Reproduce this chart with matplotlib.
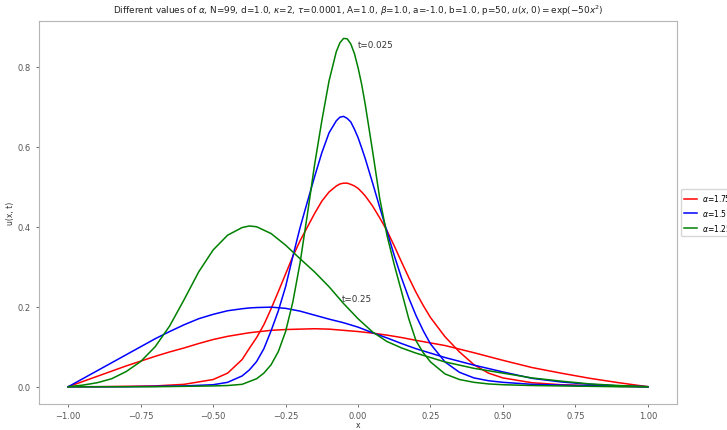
import numpy as np
import matplotlib
matplotlib.use('Agg')
import matplotlib.pyplot as plt

# solution profiles u(x, t) for three orders alpha, at t=0.025 and t=0.25
alphas = ['1.75', '1.5', '1.25']
colors = ['r', 'b', 'g']

x_early = [-1.0, -0.9, -0.8, -0.7, -0.6, -0.5, -0.45, -0.4,
           -0.375, -0.35, -0.325, -0.3, -0.275, -0.25, -0.225, -0.2,
           -0.175, -0.15, -0.125, -0.1, -0.075, -0.0625, -0.05, -0.0375, -0.025, -0.0125, 0.0, 0.0125,
           0.025, 0.05, 0.075, 0.1, 0.125, 0.15, 0.175, 0.2, 0.225, 0.25,
           0.3, 0.35, 0.4, 0.45, 0.5, 0.6, 0.7, 0.8, 0.9, 1.0]

u_early_175 = [0.0, 0.0, 0.001, 0.002, 0.006, 0.018, 0.034, 0.068,
               0.096, 0.123, 0.155, 0.195, 0.238, 0.282, 0.326, 0.365,
               0.399, 0.433, 0.464, 0.487, 0.502, 0.507, 0.509, 0.509, 0.506, 0.502, 0.496, 0.487,
               0.477, 0.452, 0.422, 0.39, 0.352, 0.312, 0.273, 0.236, 0.203, 0.173,
               0.125, 0.087, 0.055, 0.034, 0.022, 0.01, 0.005, 0.003, 0.001, 0.0]

u_early_15 = [0.0, 0.0, 0.0, 0.001, 0.002, 0.005, 0.011, 0.027,
              0.042, 0.063, 0.095, 0.14, 0.19, 0.25, 0.326, 0.398,
              0.462, 0.525, 0.585, 0.635, 0.665, 0.674, 0.676, 0.671, 0.662, 0.644, 0.623, 0.597,
              0.57, 0.51, 0.448, 0.388, 0.328, 0.272, 0.222, 0.178, 0.14, 0.107,
              0.062, 0.036, 0.022, 0.015, 0.011, 0.006, 0.004, 0.002, 0.001, 0.0]

u_early_125 = [0.0, 0.0, 0.0, 0.0, 0.001, 0.002, 0.003, 0.006,
               0.013, 0.02, 0.034, 0.055, 0.088, 0.138, 0.212, 0.31,
               0.43, 0.555, 0.665, 0.765, 0.838, 0.86, 0.871, 0.87, 0.857, 0.833, 0.798, 0.756,
               0.705, 0.59, 0.47, 0.378, 0.305, 0.238, 0.17, 0.115, 0.085, 0.062,
               0.032, 0.018, 0.011, 0.007, 0.005, 0.003, 0.002, 0.001, 0.0, 0.0]

x_late = [-1.0, -0.95, -0.9, -0.85, -0.8, -0.75, -0.7, -0.65, -0.6, -0.55,
          -0.5, -0.45, -0.4, -0.375, -0.35, -0.3, -0.25, -0.2, -0.15, -0.1, -0.05,
          0.0, 0.05, 0.1, 0.15, 0.2, 0.3, 0.4, 0.5, 0.6, 0.7, 0.8, 0.9, 1.0]

u_late_175 = [0.0, 0.013, 0.026, 0.039, 0.052, 0.064, 0.076, 0.087, 0.097, 0.108,
              0.118, 0.126, 0.132, 0.135, 0.137, 0.141, 0.143, 0.144, 0.145, 0.144, 0.141,
              0.138, 0.134, 0.129, 0.123, 0.116, 0.103, 0.085, 0.066, 0.048, 0.034, 0.021, 0.01, 0.0]

u_late_15 = [0.0, 0.02, 0.04, 0.06, 0.08, 0.1, 0.12, 0.138, 0.155, 0.17,
             0.181, 0.19, 0.195, 0.197, 0.198, 0.199, 0.196, 0.189, 0.179, 0.169, 0.16,
             0.149, 0.135, 0.122, 0.108, 0.095, 0.073, 0.054, 0.037, 0.021, 0.012, 0.006, 0.002, 0.0]

u_late_125 = [0.0, 0.004, 0.01, 0.02, 0.038, 0.063, 0.1, 0.152, 0.218, 0.287,
              0.342, 0.379, 0.398, 0.402, 0.4, 0.383, 0.354, 0.32, 0.287, 0.25, 0.208,
              0.17, 0.137, 0.113, 0.097, 0.084, 0.062, 0.046, 0.034, 0.022, 0.014, 0.007, 0.003, 0.0]

u_early = [u_early_175, u_early_15, u_early_125]
u_late = [u_late_175, u_late_15, u_late_125]

plt.rcParams['font.size'] = 6
fig = plt.figure(figsize=(7.27, 4.31), dpi=100)
ax = fig.add_axes([0.054, 0.06, 0.877, 0.889])

for a, c, ue, ul in zip(alphas, colors, u_early, u_late):
    ax.plot(x_early, ue, color=c, lw=1.1, label=r'$\alpha$=' + a)
    ax.plot(x_late, ul, color=c, lw=1.1)

ax.text(0.0, 0.85, 't=0.025', fontsize=6.3, color='#333333')
ax.text(-0.055, 0.215, 't=0.25', fontsize=6.3, color='#333333')

ax.set_title(r'Different values of $\alpha$, N=99, d=1.0, $\kappa$=2, $\tau$=0.0001, A=1.0, '
             r'$\beta$=1.0, a=-1.0, b=1.0, p=50, $u(x,0)=\exp(-50x^2)$', fontsize=6.4, color='#222222')
ax.set_xlabel('x', color='#333333', labelpad=0, fontsize=5.5)
ax.set_ylabel('u(x, t)', color='#333333', labelpad=2, fontsize=5.5)
ax.set_xticks([-1.0, -0.75, -0.5, -0.25, 0.0, 0.25, 0.5, 0.75, 1.0])
ax.set_yticks([0.0, 0.2, 0.4, 0.6, 0.8])
for s in ax.spines.values():
    s.set_color('#b5b5b5')
ax.tick_params(colors='#555555', length=2.5, width=0.6)
ax.tick_params(axis='x', pad=2.5)

ax.legend(loc='center left', bbox_to_anchor=(1.0, 0.5), fontsize=5.5, frameon=True,
          edgecolor='#cccccc', fancybox=True, handlelength=1.8, handletextpad=0.6)

fig.savefig('out.png', dpi=100)
